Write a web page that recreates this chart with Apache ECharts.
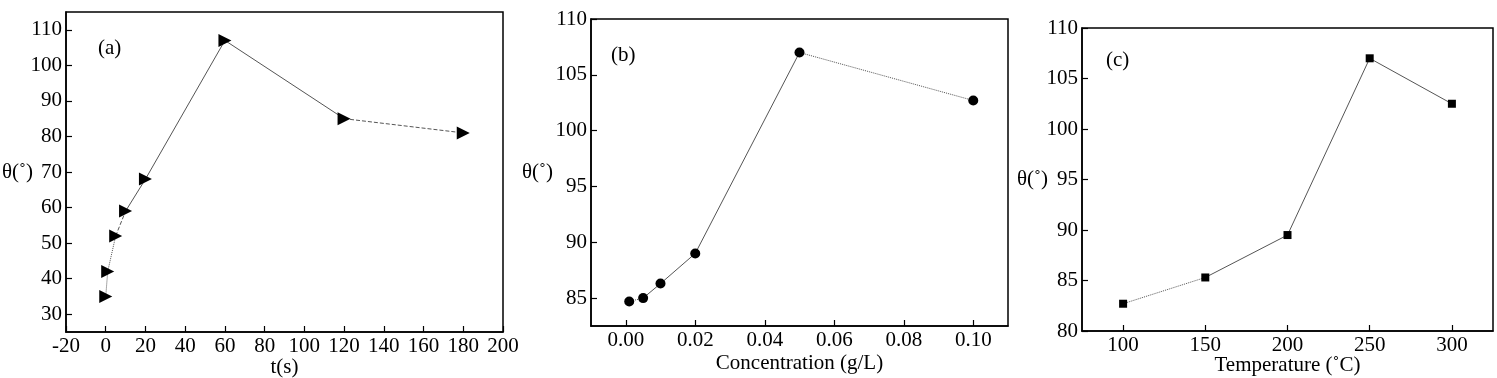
<!DOCTYPE html>
<html>
<head>
<meta charset="utf-8">
<script src="https://cdn.jsdelivr.net/npm/echarts@6/dist/echarts.min.js"></script>
<style>
  html, body { margin: 0; padding: 0; background: #fff; }
  #chart { width: 1497px; height: 378px; }
</style>
</head>
<body>
<div id="chart"></div>
<script>
  // (a) contact angle vs. immersion time
  const timeS = [0, 1, 5, 10, 20, 60, 120, 180];
  const thetaA = [35, 42, 52, 59, 68, 107, 85, 81];
  const ticksA_x = [-20, 0, 20, 40, 60, 80, 100, 120, 140, 160, 180, 200];
  const ticksA_y = [30, 40, 50, 60, 70, 80, 90, 100, 110];

  // (b) contact angle vs. concentration
  const concGL = [0.001, 0.005, 0.01, 0.02, 0.05, 0.1];
  const thetaB = [84.7, 85.0, 86.3, 89.0, 107.0, 102.7];
  const ticksB_x = [0, 0.02, 0.04, 0.06, 0.08, 0.1];
  const ticksB_y = [85, 90, 95, 100, 105, 110];

  // (c) contact angle vs. temperature
  const tempC = [100, 150, 200, 250, 300];
  const thetaC = [82.7, 85.3, 89.5, 107.0, 102.5];
  const ticksC_x = [100, 150, 200, 250, 300];
  const ticksC_y = [80, 85, 90, 95, 100, 105, 110];

  const FONT = '"Liberation Serif", "DejaVu Serif", serif';
  const chart = echarts.init(document.getElementById('chart'));

  // split one curve into pieces so each piece can get its own line type
  // segs: [fromIndex, toIndex, type]
  function pieces(xs, ys, segs, idx, symbol, size, rotate) {
    const out = segs.map(([a, b, type]) => ({
      type: 'line',
      xAxisIndex: idx,
      yAxisIndex: idx,
      data: xs.map((x, i) => [x, ys[i]]).slice(a, b + 1),
      showSymbol: false,
      symbol: 'none',
      lineStyle: { color: '#555', width: 1, type: type },
      silent: true,
    }));
    out.push({
      type: 'scatter',
      xAxisIndex: idx,
      yAxisIndex: idx,
      data: xs.map((x, i) => [x, ys[i]]),
      symbol: symbol,
      symbolSize: size,
      symbolRotate: rotate || 0,
      itemStyle: { color: '#000', opacity: 1 },
      z: 5,
    });
    return out;
  }

  function xAxis(idx, min, max, ticks, name, nameGap, fmt) {
    return {
      type: 'value',
      gridIndex: idx,
      min: min,
      max: max,
      name: name,
      nameLocation: 'middle',
      nameGap: nameGap,
      nameMoveOverlap: false,
      nameTextStyle: { fontFamily: FONT, fontSize: 21, color: '#000' },
      axisLine: { onZero: false, lineStyle: { color: '#000', width: 1.5 } },
      axisTick: { inside: true, length: 6, customValues: ticks, lineStyle: { color: '#000', width: 1.2 } },
      axisLabel: {
        customValues: ticks,
        fontFamily: FONT,
        fontSize: 21,
        color: '#000',
        margin: 4,
        formatter: fmt || ((v) => String(v)),
      },
      splitLine: { show: false },
    };
  }

  function yAxis(idx, min, max, ticks, nameGap) {
    return {
      type: 'value',
      gridIndex: idx,
      min: min,
      max: max,
      name: 'θ(˚)',
      nameLocation: 'middle',
      nameRotate: 0,
      nameGap: nameGap,
      nameMoveOverlap: false,
      nameTextStyle: { fontFamily: FONT, fontSize: 21, color: '#000' },
      axisLine: { onZero: false, lineStyle: { color: '#000', width: 1.5 } },
      axisTick: { inside: true, length: 6, customValues: ticks, lineStyle: { color: '#000', width: 1.2 } },
      axisLabel: {
        customValues: ticks,
        fontFamily: FONT,
        fontSize: 21,
        color: '#000',
        margin: 4,
      },
      splitLine: { show: false },
    };
  }

  const gridBase = {
    show: true,
    borderColor: '#000',
    borderWidth: 1.5,
    backgroundColor: 'transparent',
    containLabel: false,
    outerBoundsMode: 'none',
  };

  const titleStyle = { fontFamily: FONT, fontSize: 21, fontWeight: 'normal', color: '#000' };

  const option = {
    animation: false,
    backgroundColor: '#fff',
    title: [
      { text: '(a)', left: 93, top: 33, textStyle: titleStyle },
      { text: '(b)', left: 606, top: 40, textStyle: titleStyle },
      { text: '(c)', left: 1101, top: 45, textStyle: titleStyle },
    ],
    grid: [
      Object.assign({ left: 66, top: 12, width: 437, height: 320 }, gridBase),
      Object.assign({ left: 591, top: 19, width: 417, height: 307 }, gridBase),
      Object.assign({ left: 1082, top: 28, width: 411, height: 303 }, gridBase),
    ],
    xAxis: [
      xAxis(0, -20, 200, ticksA_x, 't(s)', 25),
      xAxis(1, -0.01, 0.11, ticksB_x, 'Concentration (g/L)', 27, (v) => v.toFixed(2)),
      xAxis(2, 75, 325, ticksC_x, 'Temperature (˚C)', 24),
    ],
    yAxis: [
      yAxis(0, 25, 115, ticksA_y, 33),
      yAxis(1, 82.5, 110, ticksB_y, 38),
      yAxis(2, 80, 110, ticksC_y, 34),
    ],
    series: [].concat(
      pieces(timeS, thetaA, [[0, 2, 'dotted'], [2, 3, 'dashed'], [3, 6, 'solid'], [6, 7, 'dashed']], 0, 'triangle', 13, -90),
      pieces(concGL, thetaB, [[0, 1, 'dotted'], [1, 4, 'solid'], [4, 5, 'dotted']], 1, 'circle', 10),
      pieces(tempC, thetaC, [[0, 1, 'dotted'], [1, 4, 'solid']], 2, 'rect', 8)
    ),
  };

  chart.setOption(option);
</script>
</body>
</html>
